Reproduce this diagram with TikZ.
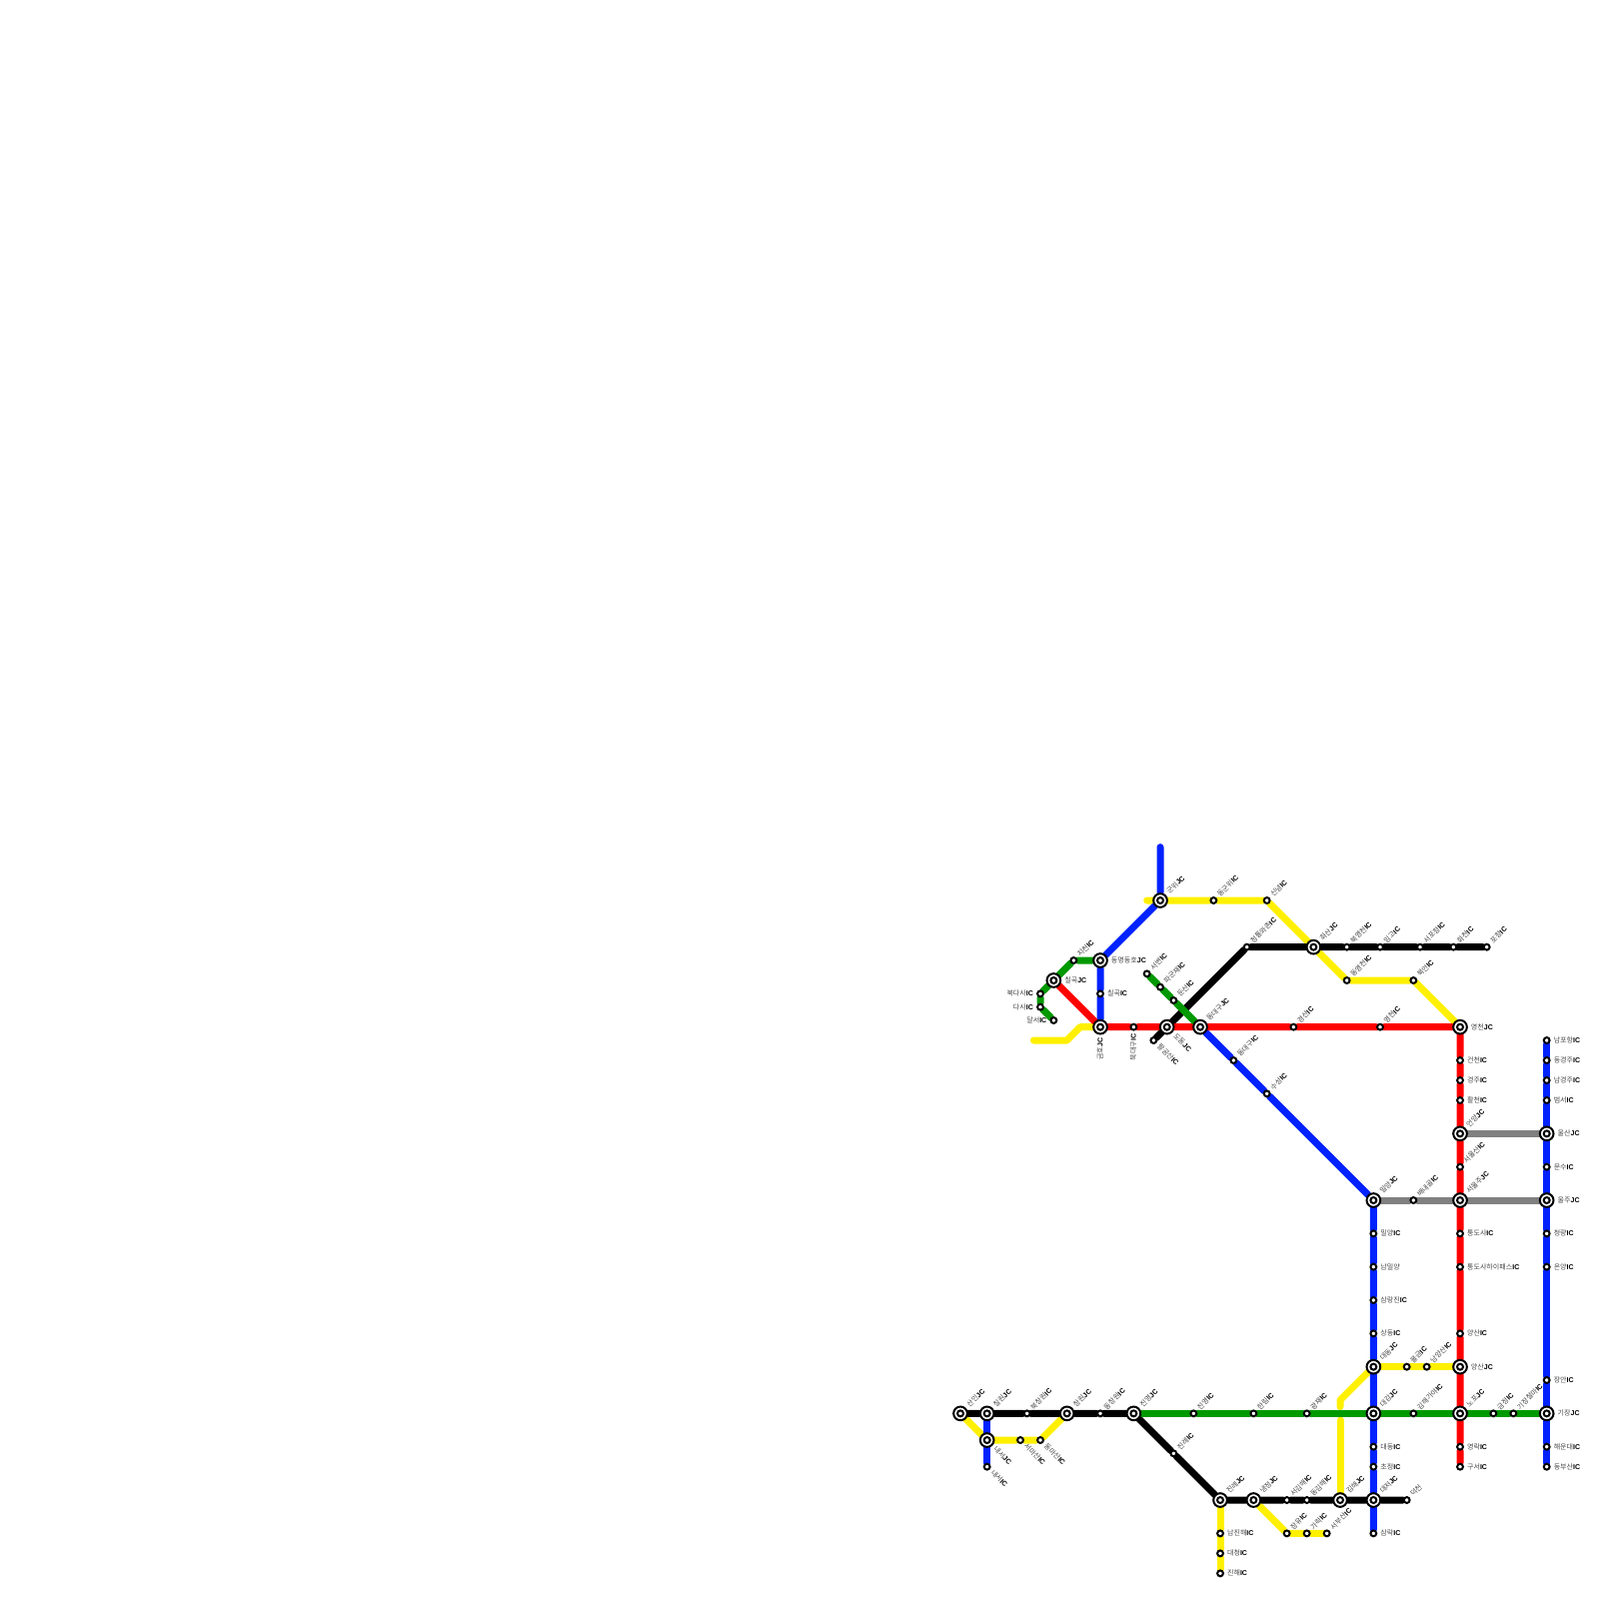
\documentclass[tikz,border=0pt]{standalone}
\usepackage{fontspec}
\setmainfont{Liberation Sans}
\newfontfamily\krfont{Noto Sans CJK KR}
\usetikzlibrary{backgrounds}
\definecolor{lineblue}{RGB}{0,34,255}
\definecolor{linered}{RGB}{255,0,0}
\definecolor{lineyellow}{RGB}{255,240,0}
\definecolor{linegreen}{RGB}{0,153,0}
\definecolor{linegray}{RGB}{128,128,128}
\definecolor{krgray}{RGB}{70,70,70}
\newcommand{\kjc}[1]{{\krfont\color{krgray}#1}\textbf{JC}}
\newcommand{\kic}[1]{{\krfont\color{krgray}#1}\textbf{IC}}
\newcommand{\kno}[1]{{\krfont\color{krgray}#1}}
\tikzset{
  ic/.style={circle,draw=black,fill=white,line width=.3mm,minimum size=.88mm,inner sep=0pt},
  jc/.style={circle,draw=black,fill=white,line width=.3mm,minimum size=2.05mm,inner sep=0pt,
    path picture={\draw[line width=.3mm] (path picture bounding box.center) circle (.45mm);}},
  lab/.style={font=\fontsize{3}{3.4}\selectfont,inner xsep=.4mm,inner ysep=0pt,text height=2.3pt,text depth=.3pt},
  lne/.style={label={[lab,rotate=45,anchor=west]45:#1}},
  lse/.style={label={[lab,rotate=-45,anchor=west]-45:#1}},
  ls/.style={label={[lab,rotate=90,anchor=east]-90:#1}},
  le/.style={label={[lab,anchor=west]0:#1}},
  lw/.style={label={[lab,anchor=east]180:#1}},
  road/.style={line width=1.05mm,line cap=round,line join=round},
  blue/.style={road,lineblue},
  red/.style={road,linered},
  yellow/.style={road,lineyellow},
  green/.style={road,linegreen},
  gray/.style={road,linegray},
  black/.style={road,draw=black}
}
\begin{document}
\begin{tikzpicture}[x=1mm,y=-1mm]
  \useasboundingbox (-.15,-.15) rectangle (239.85,239.85);
  % upper left, Daegu
  \node[jc,lne={\kjc{군위}}] (gunwi) at (174,135) {};
  \node[ic,lne={\kic{동군위}}] (dgunwi) at (182,135) {};
  \node[ic,lne={\kic{신녕}}] (sinnyeong) at (190,135) {};
  \node[ic,lne={\kic{청통와촌}}] (cheongtong) at (187,142) {};
  \node[jc,le={\kjc{동명동호}}] (dongmyeong) at (165,144) {};
  \node[ic,lne={\kic{지천}}] (jicheon) at (161,144) {};
  \node[jc,le={\kjc{칠곡}}] (chilgokj) at (158,147) {};
  \node[ic,le={\kic{칠곡}}] (chilgok) at (165,149) {};
  \node[ic,lw={\kic{북다사}}] (bdasa) at (156,149) {};
  \node[ic,lw={\kic{다사}}] (dasa) at (156,151) {};
  \node[ic,lw={\kic{달서}}] (dalseo) at (158,153) {};
  \node[jc,ls={\kjc{금호}}] (geumho) at (165,154) {};
  \node[ic,ls={\kic{북대구}}] (bdaegu) at (170,154) {};
  \node[jc,lse={\kjc{도동}}] (dodong) at (175,154) {};
  \node[jc,lne={\kjc{동대구}}] (ddaeguj) at (180,154) {};
  \node[ic,lse={\kic{팔공산}}] (palgong) at (173,156) {};
  \node[ic,lne={\kic{서변}}] (seobyeon) at (172,146) {};
  \node[ic,lne={\kic{파군재}}] (pagunjae) at (174,148) {};
  \node[ic,lne={\kic{둔산}}] (dunsan) at (176,150) {};
  \node[ic,lne={\kic{동대구}}] (ddaegu) at (185,159) {};
  \node[ic,lne={\kic{수성}}] (suseong) at (190,164) {};
  \node[ic,lne={\kic{경산}}] (gyeongsan) at (194,154) {};
  % upper right
  \node[jc,lne={\kjc{화산}}] (hwasan) at (197,142) {};
  \node[ic,lne={\kic{북영천}}] (byeongcheon) at (202,142) {};
  \node[ic,lne={\kic{임고}}] (imgo) at (207,142) {};
  \node[ic,lne={\kic{서포항}}] (spohang) at (213,142) {};
  \node[ic,lne={\kic{화천}}] (hwacheon) at (218,142) {};
  \node[ic,lne={\kic{포항}}] (pohang) at (223,142) {};
  \node[ic,lne={\kic{동영천}}] (dyeongcheon) at (202,147) {};
  \node[ic,lne={\kic{북안}}] (bukan) at (212,147) {};
  \node[ic,lne={\kic{영천}}] (yeongcheon) at (207,154) {};
  \node[jc,le={\kjc{영천}}] (yeongcheonj) at (219,154) {};
  \node[ic,le={\kic{건천}}] (geoncheon) at (219,159) {};
  \node[ic,le={\kic{경주}}] (gyeongju) at (219,162) {};
  \node[ic,le={\kic{활천}}] (hwalcheon) at (219,165) {};
  \node[ic,le={\kic{남포항}}] (npohang) at (232,156) {};
  \node[ic,le={\kic{동경주}}] (dgyeongju) at (232,159) {};
  \node[ic,le={\kic{남경주}}] (ngyeongju) at (232,162) {};
  \node[ic,le={\kic{범서}}] (beomseo) at (232,165) {};
  % middle right, Ulsan
  \node[jc,lne={\kjc{언양}}] (eonyang) at (219,170) {};
  \node[jc,le={\kjc{울산}}] (ulsan) at (232,170) {};
  \node[ic,lne={\kic{서울산}}] (sulsan) at (219,175) {};
  \node[ic,le={\kic{문수}}] (munsu) at (232,175) {};
  \node[jc,lne={\kjc{밀양}}] (miryangj) at (206,180) {};
  \node[ic,lne={\kic{배내골}}] (baenaegol) at (212,180) {};
  \node[jc,lne={\kjc{서울주}}] (sulju) at (219,180) {};
  \node[jc,le={\kjc{울주}}] (ulju) at (232,180) {};
  \node[ic,le={\kic{밀양}}] (miryang) at (206,185) {};
  \node[ic,le={\kic{통도사}}] (tongdosa) at (219,185) {};
  \node[ic,le={\kic{청량}}] (cheongnyang) at (232,185) {};
  \node[ic,le={\kno{남밀양}}] (nmiryang) at (206,190) {};
  \node[ic,le={\kic{통도사하이패스}}] (tongdohi) at (219,190) {};
  \node[ic,le={\kic{온양}}] (onyang) at (232,190) {};
  \node[ic,le={\kic{삼랑진}}] (samnangjin) at (206,195) {};
  \node[ic,le={\kic{상동}}] (sangdong) at (206,200) {};
  \node[ic,le={\kic{양산}}] (yangsan) at (219,200) {};
  % lower right, Busan
  \node[jc,lne={\kjc{대동}}] (daedongj) at (206,205) {};
  \node[ic,lne={\kic{물금}}] (mulgeum) at (211,205) {};
  \node[ic,lne={\kic{남양산}}] (nyangsan) at (214,205) {};
  \node[jc,le={\kjc{양산}}] (yangsanj) at (219,205) {};
  \node[ic,le={\kic{장안}}] (jangan) at (232,207) {};
  \node[jc,lne={\kjc{대감}}] (daegam) at (206,212) {};
  \node[ic,lne={\kic{김해가야}}] (gaya) at (212,212) {};
  \node[jc,lne={\kjc{노포}}] (nopo) at (219,212) {};
  \node[ic,lne={\kic{금정}}] (geumjeong) at (224,212) {};
  \node[ic,lne={\kic{기장철마}}] (cheolma) at (227,212) {};
  \node[jc,le={\kjc{기장}}] (gijang) at (232,212) {};
  \node[ic,le={\kic{대동}}] (daedong) at (206,217) {};
  \node[ic,le={\kic{영락}}] (yeongnak) at (219,217) {};
  \node[ic,le={\kic{해운대}}] (haeundae) at (232,217) {};
  \node[ic,le={\kic{초정}}] (chojeong) at (206,220) {};
  \node[ic,le={\kic{구서}}] (guseo) at (219,220) {};
  \node[ic,le={\kic{동부산}}] (dbusan) at (232,220) {};
  \node[jc,lne={\kjc{대저}}] (daejeo) at (206,225) {};
  \node[ic,lne={\kno{덕천}}] (deokcheon) at (211,225) {};
  \node[ic,le={\kic{삼락}}] (samnak) at (206,230) {};
  \node[jc,lne={\kjc{김해}}] (gimhae) at (201,225) {};
  % lower middle
  \node[jc,lne={\kjc{진영}}] (jinyeongj) at (170,212) {};
  \node[ic,lne={\kic{진영}}] (jinyeong) at (179,212) {};
  \node[ic,lne={\kic{한림}}] (hallim) at (188,212) {};
  \node[ic,lne={\kic{광재}}] (gwangjae) at (196,212) {};
  \node[ic,lne={\kic{진례}}] (jillye) at (176,218) {};
  \node[jc,lne={\kjc{진례}}] (jillyej) at (183,225) {};
  \node[jc,lne={\kjc{냉정}}] (naengjeong) at (188,225) {};
  \node[ic,lne={\kic{서김해}}] (sgimhae) at (193,225) {};
  \node[ic,lne={\kic{동김해}}] (dgimhae) at (196,225) {};
  \node[ic,lne={\kic{장유}}] (jangyu) at (193,230) {};
  \node[ic,lne={\kic{가락}}] (garak) at (196,230) {};
  \node[ic,lne={\kic{서부산}}] (sbusan) at (199,230) {};
  \node[ic,le={\kic{남진해}}] (njinhae) at (183,230) {};
  \node[ic,le={\kic{대청}}] (daecheong) at (183,233) {};
  \node[ic,le={\kic{진해}}] (jinhae) at (183,236) {};
  % lower left, Changwon
  \node[jc,lne={\kjc{산인}}] (sanin) at (144,212) {};
  \node[jc,lne={\kjc{칠원}}] (chirwon) at (148,212) {};
  \node[ic,lne={\kic{북창원}}] (bchangwon) at (154,212) {};
  \node[jc,lne={\kjc{창원}}] (changwon) at (160,212) {};
  \node[ic,lne={\kic{동창원}}] (dchangwon) at (165,212) {};
  \node[jc,lse={\kjc{내서}}] (naeseoj) at (148,216) {};
  \node[ic,lse={\kic{서마산}}] (smasan) at (153,216) {};
  \node[ic,lse={\kic{동마산}}] (dmasan) at (156,216) {};
  \node[ic,lse={\kic{내서}}] (naeseo) at (148,220) {};
  % free ends and bends
  \coordinate (bluetop) at (174,127);
  \coordinate (yellowa) at (155,156);
  \coordinate (yellowb) at (160,156);
  \coordinate (yellowc) at (162,154);
  \coordinate (yellowtop) at (172,135);
  \coordinate (yellowd) at (201,210);
  \coordinate (yellowe) at (201,211);
  \coordinate (yellowf) at (201,213);
  \begin{scope}[on background layer]
    \draw[yellow] (yellowa)--(yellowb)--(yellowc)--(geumho);
    \draw[yellow] (yellowtop)--(gunwi)--(dgunwi)--(sinnyeong)--(hwasan)--(dyeongcheon)--(bukan)--(yeongcheonj);
    \draw[yellow] (daedongj)--(mulgeum)--(nyangsan)--(yangsanj);
    \draw[yellow] (daedongj)--(yellowd)--(yellowe);
    \draw[yellow] (yellowf)--(gimhae);
    \draw[yellow] (jillyej)--(njinhae)--(daecheong)--(jinhae);
    \draw[yellow] (naengjeong)--(jangyu)--(garak)--(sbusan);
    \draw[yellow] (sanin)--(naeseoj)--(smasan)--(dmasan)--(changwon);
    \draw[black] (sanin)--(chirwon)--(bchangwon)--(changwon)--(dchangwon)--(jinyeongj)--(jillye)--(jillyej)--(naengjeong)--(sgimhae)--(dgimhae)--(gimhae)--(daejeo)--(deokcheon);
    \draw[black] (palgong)--(dodong)--(cheongtong)--(hwasan)--(byeongcheon)--(imgo)--(spohang)--(hwacheon)--(pohang);
    \draw[blue] (bluetop)--(gunwi)--(dongmyeong)--(chilgok)--(geumho);
    \draw[blue] (ddaeguj)--(ddaegu)--(suseong)--(miryangj)--(miryang)--(nmiryang)--(samnangjin)--(sangdong)--(daedongj)--(daegam)--(daedong)--(chojeong)--(daejeo)--(samnak);
    \draw[blue] (npohang)--(dgyeongju)--(ngyeongju)--(beomseo)--(ulsan)--(munsu)--(ulju)--(cheongnyang)--(onyang)--(jangan)--(gijang)--(haeundae)--(dbusan);
    \draw[blue] (chirwon)--(naeseoj)--(naeseo);
    \draw[red] (chilgokj)--(geumho)--(bdaegu)--(dodong)--(ddaeguj)--(gyeongsan)--(yeongcheon)--(yeongcheonj)--(geoncheon)--(gyeongju)--(hwalcheon)--(eonyang)--(sulsan)--(sulju)--(tongdosa)--(tongdohi)--(yangsan)--(yangsanj)--(nopo)--(yeongnak)--(guseo);
    \draw[gray] (eonyang)--(ulsan);
    \draw[gray] (miryangj)--(baenaegol)--(sulju)--(ulju);
    \draw[green] (dalseo)--(dasa)--(bdasa)--(chilgokj)--(jicheon)--(dongmyeong);
    \draw[green] (seobyeon)--(pagunjae)--(dunsan)--(ddaeguj);
    \draw[green] (jinyeongj)--(jinyeong)--(hallim)--(gwangjae)--(daegam)--(gaya)--(nopo)--(geumjeong)--(cheolma)--(gijang);
  \end{scope}
\end{tikzpicture}
\end{document}
